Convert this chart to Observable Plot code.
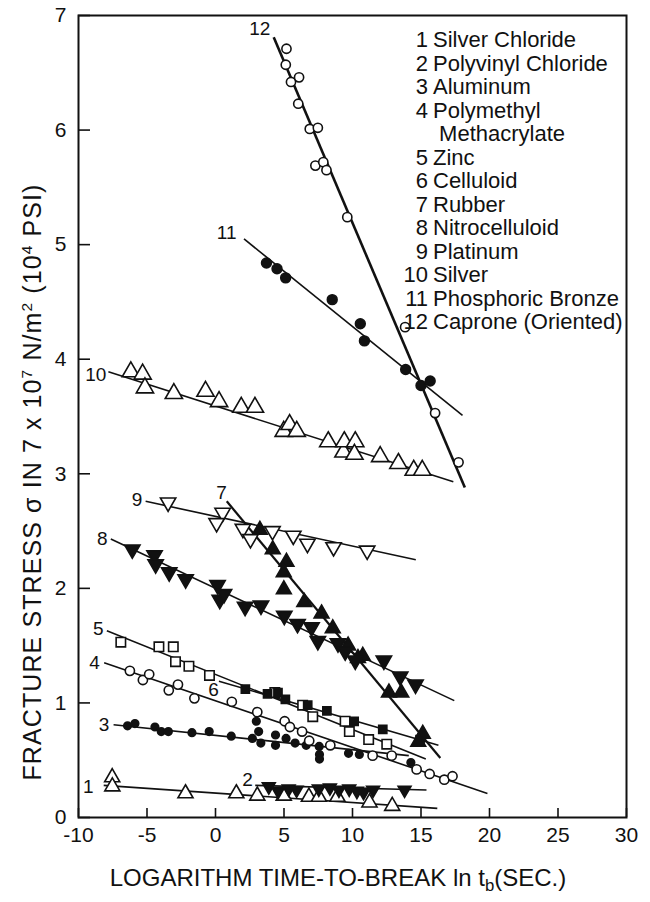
<!DOCTYPE html>
<html><head><meta charset="utf-8">
<script src="https://cdn.jsdelivr.net/npm/d3@7"></script>
<script src="https://cdn.jsdelivr.net/npm/@observablehq/plot@0.6"></script>
<style>
body{margin:0;background:#fff;}
#wrap{position:relative;width:650px;height:902px;font-family:"Liberation Sans",Arial,Helvetica,sans-serif;color:#111;}
#wrap svg{position:absolute;left:0;top:0;}
.ov{position:absolute;white-space:nowrap;}
.ov sup{font-size:62%;vertical-align:0;position:relative;top:-0.55em;}
.ov sub{font-size:70%;vertical-align:0;position:relative;top:0.3em;}
#legend div{display:flex;height:23.5px;line-height:23.5px;}
#legend .n{width:28px;text-align:right;}
#legend .t{margin-left:5px;}
</style></head><body><div id="wrap"></div>
<script>
// Materials (series 1..12)
const materials = ["Silver Chloride","Polyvinyl Chloride","Aluminum","Polymethyl Methacrylate","Zinc","Celluloid","Rubber","Nitrocelluloid","Platinum","Silver","Phosphoric Bronze","Caprone (Oriented)"];

// Data points [ln tb (s), stress (10^4 psi)]
const s1 = [[-7.54,0.35],[-7.53,0.27],[-2.19,0.21],[1.52,0.21],[3.05,0.19],[4.98,0.19],[6.82,0.18],[7.55,0.18],[8.9,0.18],[11.24,0.13],[12.9,0.10]];
const s2 = [[3.89,0.27],[4.58,0.23],[5.34,0.25],[5.92,0.24],[7.54,0.25],[8.35,0.26],[9.01,0.24],[9.76,0.25],[10.32,0.23],[10.81,0.22],[11.5,0.24],[13.8,0.24]];
const s3 = [[-6.42,0.80],[-5.88,0.82],[-4.42,0.79],[-3.96,0.75],[-3.44,0.75],[-1.72,0.74],[-0.46,0.75],[1.15,0.71],[2.69,0.69],[2.98,0.84],[3.15,0.75],[3.31,0.65],[4.38,0.72],[4.38,0.63],[5.15,0.69],[5.81,0.65],[6.62,0.63],[7.57,0.62],[7.59,0.55],[7.59,0.51],[9.71,0.56],[10.5,0.55],[14.26,0.48]];
const s4 = [[-6.25,1.28],[-5.30,1.20],[-4.84,1.25],[-3.41,1.11],[-2.74,1.16],[-1.54,1.04],[1.19,1.01],[3.05,0.92],[5.05,0.84],[5.43,0.79],[6.32,0.75],[6.84,0.67],[8.38,0.63],[11.47,0.54],[12.86,0.54],[14.68,0.42],[15.63,0.38],[16.7,0.33],[17.3,0.36]];
const s5 = [[-6.91,1.53],[-4.13,1.49],[-3.08,1.49],[-2.92,1.36],[-1.94,1.32],[-0.44,1.24],[4.33,1.09],[6.36,0.98],[7.10,0.88],[9.46,0.84],[9.77,0.75],[11.18,0.68],[12.5,0.64]];
const s6 = [[2.18,1.12],[3.80,1.08],[4.56,1.09],[5.10,1.03],[6.73,0.98],[8.13,0.93],[10.12,0.84],[12.21,0.77],[14.93,0.68]];
const s7 = [[3.24,2.51],[4.18,2.34],[5.18,2.23],[4.98,2.14],[4.99,1.99],[6.48,1.88],[7.74,1.78],[8.56,1.65],[9.68,1.50],[10.4,1.39],[10.75,1.41],[12.66,1.09],[13.56,1.09],[15.13,0.73],[14.8,0.66]];
const s8 = [[-6.07,2.34],[-4.45,2.29],[-4.37,2.21],[-3.38,2.14],[-2.18,2.08],[0.15,2.03],[0.31,1.90],[0.62,1.95],[2.16,1.84],[3.32,1.85],[5.02,1.76],[5.99,1.69],[7.01,1.66],[7.47,1.54],[8.94,1.52],[9.47,1.45],[10.2,1.37],[12.29,1.37],[13.48,1.23],[14.6,1.16]];
const s9 = [[-3.46,2.75],[0.52,2.66],[0.08,2.57],[2.0,2.52],[2.55,2.43],[4.16,2.50],[5.68,2.46],[6.71,2.39],[8.62,2.36],[11.07,2.33]];
const s10 = [[-6.18,3.89],[-5.32,3.87],[-5.15,3.75],[-3.04,3.70],[-0.73,3.72],[0.26,3.63],[1.88,3.58],[2.88,3.58],[4.98,3.37],[5.41,3.43],[5.93,3.37],[8.23,3.28],[9.34,3.19],[9.40,3.28],[10.2,3.28],[10.14,3.17],[12.02,3.15],[13.35,3.09],[14.47,3.03],[15.09,3.03]];
const s11 = [[3.72,4.84],[4.49,4.79],[5.12,4.71],[8.52,4.52],[10.57,4.31],[10.87,4.16],[13.88,3.91],[15.0,3.77],[15.67,3.81]];
const s12 = [[5.18,6.71],[5.13,6.57],[5.51,6.42],[6.10,6.46],[6.04,6.23],[6.88,6.01],[7.47,6.02],[7.29,5.69],[7.87,5.72],[8.10,5.65],[9.62,5.24],[13.84,4.28],[16.03,3.53],[17.74,3.10]];

// Fitted straight lines (start, end) for series 1..12
const fitStart = [[-8.16,0.28],[2.9,0.28],[-7.44,0.81],[-8.13,1.35],[-7.93,1.63],[0.25,1.19],[0.82,2.76],[-7.64,2.43],[-5.1,2.76],[-7.82,3.89],[2.08,5.05],[4.25,6.81]];
const fitEnd   = [[16.19,0.08],[15.4,0.24],[14.11,0.54],[19.85,0.21],[15.35,0.51],[16.27,0.63],[16.41,0.52],[17.43,1.02],[14.62,2.25],[17.36,2.93],[18.03,3.51],[18.2,2.88]];

// Series number labels next to the line starts
const labelPos = [[-8.9,0.27],[2.73,0.33],[-7.75,0.81],[-8.45,1.35],[-8.17,1.65],[0.25,1.11],[0.82,2.83],[-7.88,2.43],[-5.34,2.77],[-7.97,3.86],[1.54,5.10],[4.0,6.88]];

const xTicks = [-10,-5,0,5,10,15,20,25,30];
const yTicks = [0,1,2,3,4,5,6,7];

const series = [s1,s2,s3,s4,s5,s6,s7,s8,s9,s10,s11,s12];
const points = series.flatMap((arr,i)=>arr.map(([x,y])=>({id:i+1,x,y})));
const fits = fitStart.map((a,i)=>({id:i+1,x1:a[0],y1:a[1],x2:fitEnd[i][0],y2:fitEnd[i][1]}));
const labels = labelPos.map((a,i)=>({id:i+1,x:a[0],y:a[1]}));

const INK = "#111";
const markStyle = {
  1:{symbol:"triangle",r:5.6,fill:"white",rotate:0},
  2:{symbol:"triangle",r:4.8,fill:INK,rotate:180},
  3:{symbol:"circle",r:3.8,fill:INK,rotate:0},
  4:{symbol:"circle",r:4.6,fill:"white",rotate:0},
  5:{symbol:"square",r:5.3,fill:"white",rotate:0},
  6:{symbol:"square",r:4.6,fill:INK,rotate:0},
  7:{symbol:"triangle",r:5.5,fill:INK,rotate:0},
  8:{symbol:"triangle",r:5.7,fill:INK,rotate:180},
  9:{symbol:"triangle",r:5.7,fill:"white",rotate:180},
  10:{symbol:"triangle",r:6.4,fill:"white",rotate:0},
  11:{symbol:"circle",r:4.9,fill:INK,rotate:0},
  12:{symbol:"circle",r:4.6,fill:"white",rotate:0}
};
const lineWidth = {7:2.2,12:2.6};

const dotMarks = Object.keys(markStyle).map(k=>{
  const s = markStyle[k];
  return Plot.dot(points.filter(d=>d.id===+k), {x:"x", y:"y", symbol:s.symbol, r:s.r, fill:s.fill, stroke:INK, strokeWidth:1.6, rotate:s.rotate});
});

const chart = Plot.plot({
  width:650, height:902,
  marginTop:15, marginLeft:78, marginRight:24, marginBottom:85,
  style:{fontFamily:'"Liberation Sans",Arial,Helvetica,sans-serif', background:"white", color:INK},
  x:{domain:[-10,30]},
  y:{domain:[0,7]},
  marks:[
    Plot.frame({stroke:INK, strokeWidth:2}),
    Plot.axisX(xTicks, {anchor:"bottom", tickSize:-9, tickPadding:19, fontSize:21, label:null, strokeWidth:1.6, tickFormat:d=>String(d)}),
    Plot.axisY(yTicks, {anchor:"left", tickSize:-12, tickPadding:24, fontSize:21, label:null, strokeWidth:1.6, tickFormat:d=>String(d)}),
    ...fits.map(f=>Plot.link([f], {x1:"x1", y1:"y1", x2:"x2", y2:"y2", stroke:INK, strokeWidth:lineWidth[f.id]||1.6})),
    ...dotMarks,
    Plot.text(labels, {x:"x", y:"y", text:d=>String(d.id), textAnchor:"end", fontSize:19, fill:INK})
  ]
});

const wrap = document.getElementById("wrap");
wrap.appendChild(chart);

// Axis titles
const xt = document.createElement("div");
xt.className="ov";
xt.style.cssText="left:338px;top:864px;transform:translateX(-50%);font-size:24px;";
xt.innerHTML="LOGARITHM TIME-TO-BREAK ln t<sub>b</sub>(SEC.)";
wrap.appendChild(xt);

const yt = document.createElement("div");
yt.className="ov";
yt.style.cssText="left:32px;top:482px;transform:translate(-50%,-50%) rotate(-90deg);font-size:25px;letter-spacing:1.1px;";
yt.innerHTML="FRACTURE STRESS &sigma; IN 7 x 10<sup>7</sup> N/m<sup>2</sup> (10<sup>4</sup> PSI)";
wrap.appendChild(yt);

// Legend
const lg = document.createElement("div");
lg.id="legend"; lg.className="ov";
lg.style.cssText="left:400px;top:28px;font-size:22px;";
const rows = [];
materials.forEach((m,i)=>{
  if (m==="Polymethyl Methacrylate") { rows.push([i+1,"Polymethyl"]); rows.push(["","&nbsp;Methacrylate"]); }
  else rows.push([i+1,m]);
});
lg.innerHTML = rows.map(([n,t])=>`<div><span class="n">${n}</span><span class="t">${t}</span></div>`).join("");
wrap.appendChild(lg);
</script></body></html>
